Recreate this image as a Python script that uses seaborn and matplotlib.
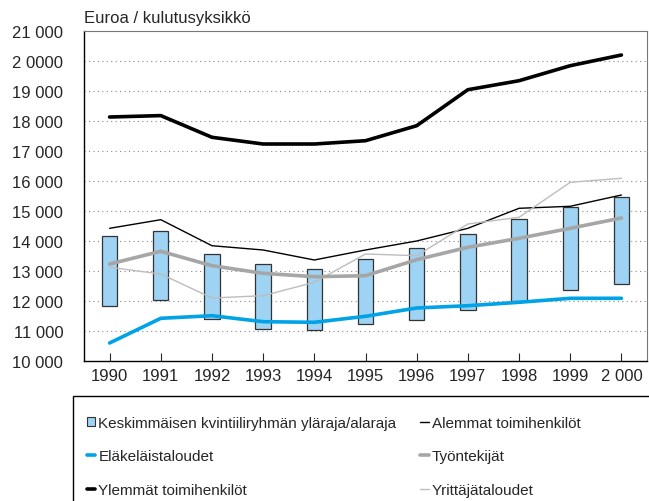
import matplotlib
matplotlib.use('Agg')
import matplotlib.pyplot as plt
import seaborn as sns
import pandas as pd
import numpy as np
from matplotlib.patches import Patch, Rectangle
from matplotlib.lines import Line2D

sns.set_style('white')
plt.rcParams['font.family'] = ['Liberation Sans', 'DejaVu Sans']

years = ['1990', '1991', '1992', '1993', '1994', '1995', '1996', '1997', '1998', '1999', '2 000']
band_top = [14157, 14343, 13577, 13233, 13077, 13400, 13757, 14233, 14723, 15143, 15477]
band_bottom = [11823, 12043, 11390, 11057, 11023, 11223, 11377, 11700, 11990, 12367, 12557]
ylemmat = [18133, 18180, 17457, 17233, 17233, 17343, 17843, 19043, 19343, 19843, 20200]
alemmat = [14423, 14710, 13843, 13700, 13367, 13700, 14000, 14423, 15090, 15157, 15533]
tyontekijat = [13233, 13657, 13177, 12923, 12810, 12843, 13377, 13790, 14090, 14423, 14767]
yrittajat = [13123, 12900, 12100, 12177, 12623, 13567, 13510, 14567, 14790, 15957, 16090]
elakelaiset = [10600, 11423, 11510, 11310, 11290, 11490, 11767, 11843, 11957, 12090, 12090]
ytick_labels = ['10 000', '11 000', '12 000', '13 000', '14 000', '15 000',
                '16 000', '17 000', '18 000', '19 000', '2 0000', '21 000']

x = np.arange(len(years))

fig = plt.figure(figsize=(6.49, 5.02), dpi=100)
ax = fig.add_axes([84 / 649, 1 - 362 / 502, (647 - 84) / 649, (362 - 32) / 502])

bar_color = '#9ED3F3'
ax.bar(x, np.array(band_top) - np.array(band_bottom), bottom=band_bottom, width=0.3,
       color=bar_color, edgecolor='#333333', linewidth=0.9, zorder=2)

series = [
    ('Alemmat toimihenkilöt', alemmat, 'black', 1.0),
    ('Yrittäjätaloudet', yrittajat, '#BDBDBD', 1.0),
    ('Työntekijät', tyontekijat, '#A6A6A6', 2.6),
    ('Eläkeläistaloudet', elakelaiset, '#00A3E6', 2.6),
    ('Ylemmät toimihenkilöt', ylemmat, 'black', 2.6),
]
for name, vals, col, lw in series:
    df = pd.DataFrame({'x': x, 'y': vals})
    sns.lineplot(data=df, x='x', y='y', ax=ax, color=col, linewidth=lw, zorder=3)

ax.set_xlim(-0.5, len(years) - 0.5)
ax.set_ylim(10000, 21000)
ax.set_xticks(x)
ax.set_xticklabels(years, fontsize=12)
ax.set_yticks(np.arange(10000, 21001, 1000))
ax.set_yticklabels(ytick_labels, fontsize=12)
ax.set_xlabel('')
ax.set_ylabel('')
ax.tick_params(axis='x', direction='in', length=6, width=0.8, pad=5, bottom=True)
ax.tick_params(axis='y', length=0, pad=15)

for yv in range(11000, 21000, 1000):
    ax.axhline(yv, color='#888888', linestyle=(0, (1, 3)), linewidth=0.8, zorder=1)

for side in ['left', 'bottom']:
    ax.spines[side].set_color('black')
    ax.spines[side].set_linewidth(1.0)
for side in ['top', 'right']:
    ax.spines[side].set_color('#777777')
    ax.spines[side].set_linewidth(0.8)

fig.text(84 / 649, 1 - 18 / 502, 'Euroa / kulutusyksikkö', fontsize=12, va='center', ha='left')

# legend frame runs off the right and bottom edges of the picture
fig.patches.append(Rectangle((73 / 649, -0.1), 0.9, 0.1 + (502 - 397) / 502,
                             transform=fig.transFigure, facecolor='none',
                             edgecolor='black', linewidth=1.0))

handles = [
    Patch(facecolor=bar_color, edgecolor='#333333', linewidth=0.8),
    Line2D([], [], color='#00A3E6', linewidth=2.6),
    Line2D([], [], color='black', linewidth=2.6),
    Line2D([], [], color='black', linewidth=1.0),
    Line2D([], [], color='#A6A6A6', linewidth=2.6),
    Line2D([], [], color='#BDBDBD', linewidth=1.0),
]
labels = ['Keskimmäisen kvintiiliryhmän yläraja/alaraja', 'Eläkeläistaloudet',
          'Ylemmät toimihenkilöt', 'Alemmat toimihenkilöt', 'Työntekijät',
          'Yrittäjätaloudet']
leg = fig.legend(handles, labels, ncol=2, loc='upper left',
                 bbox_to_anchor=(87 / 649, 1 - 417 / 502), borderaxespad=0,
                 fontsize=11, handlelength=0.55, handleheight=0.55, handletextpad=0.2,
                 labelspacing=1.27, columnspacing=1.55, borderpad=0,
                 frameon=False)

fig.savefig('out.png', dpi=100)
